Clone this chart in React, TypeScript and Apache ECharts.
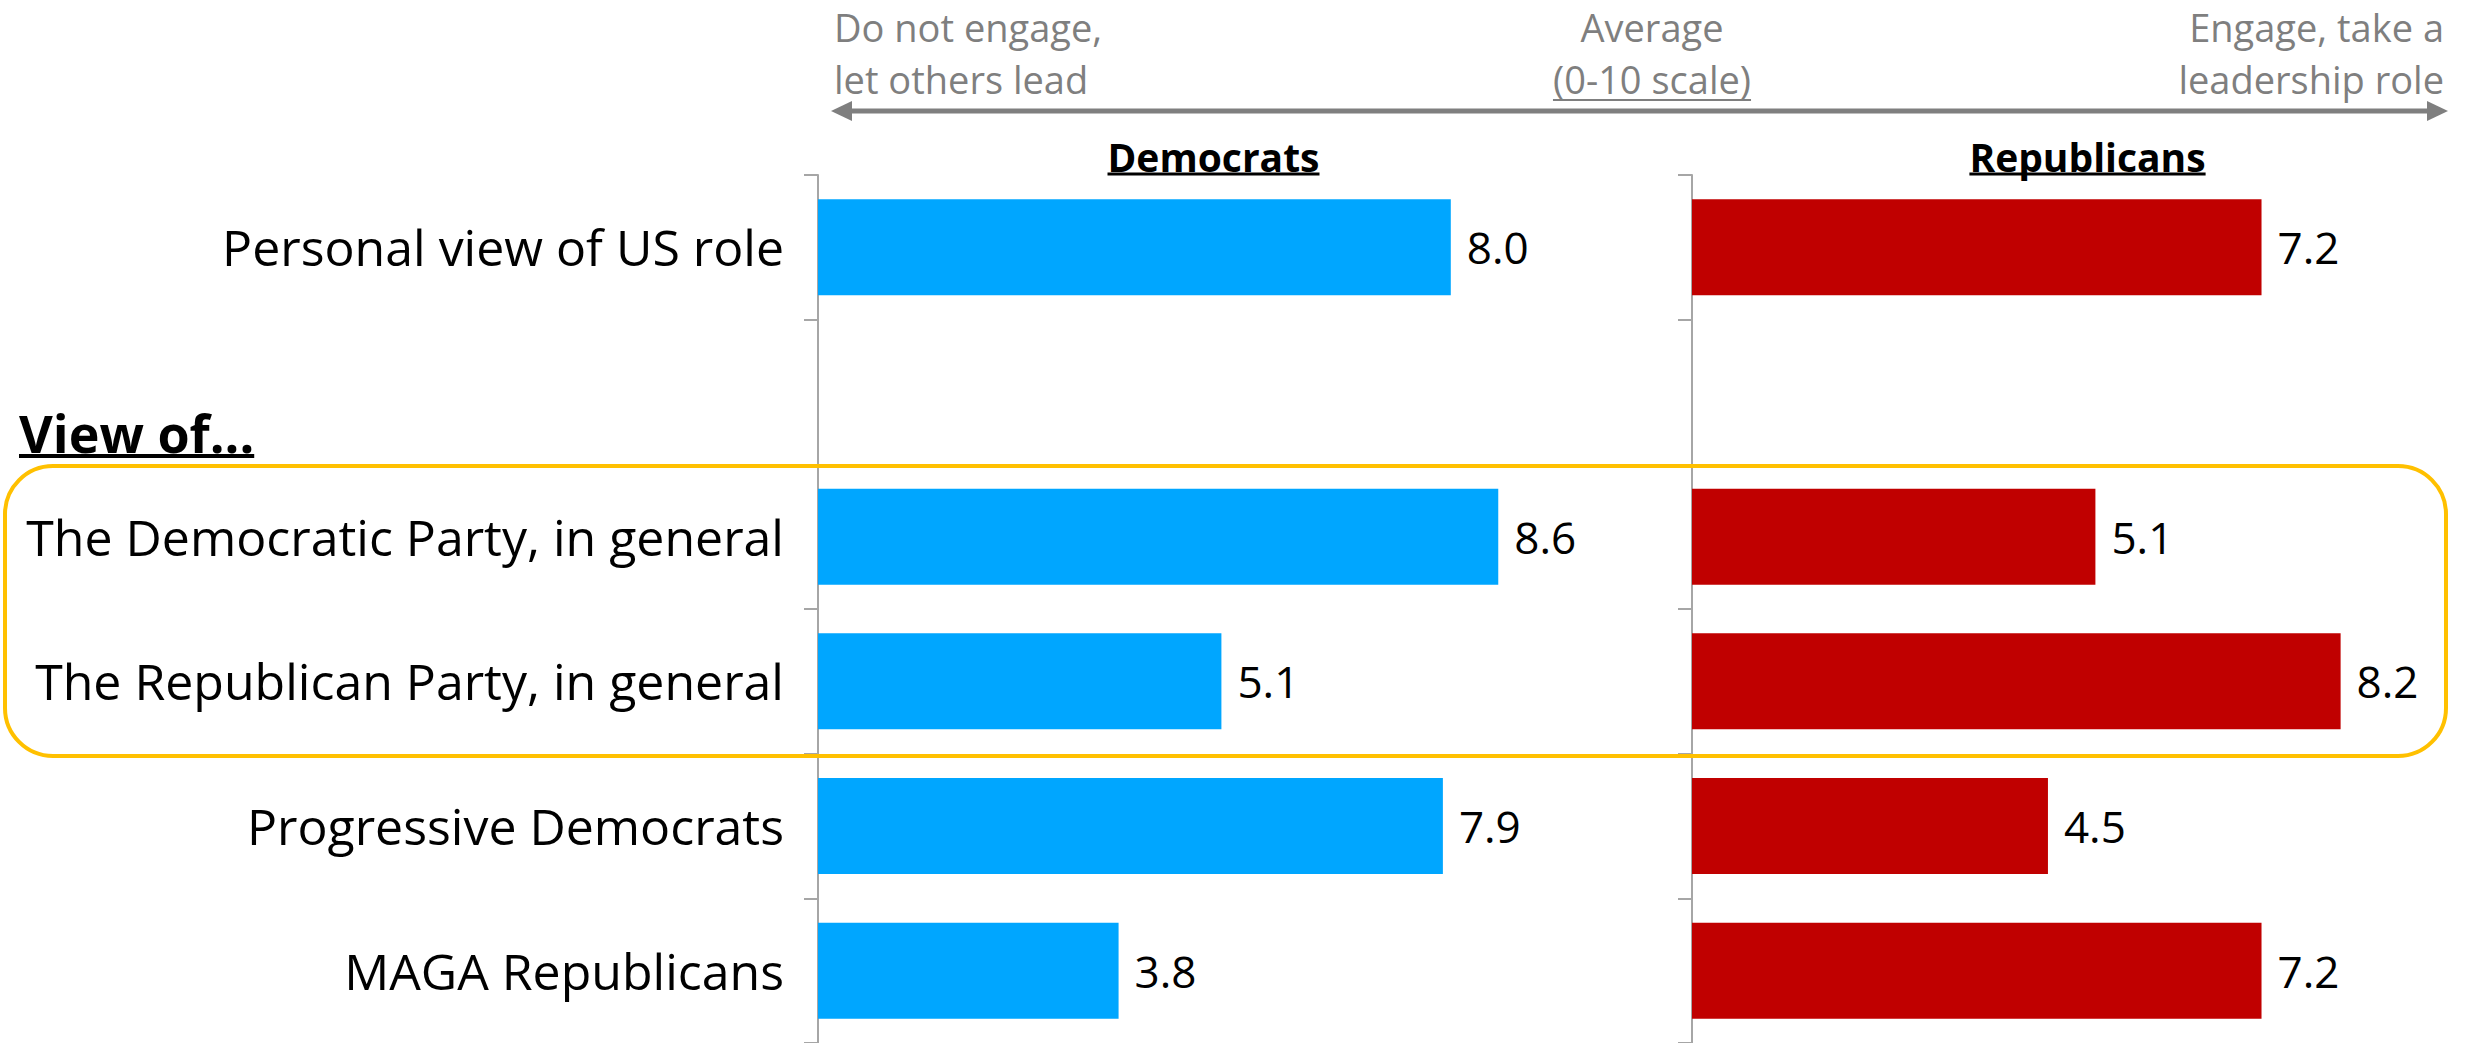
import React, { useEffect, useRef } from "react";
import * as echarts from "echarts";

const categories = [
  "Personal view of US role",
  "",
  "The Democratic Party, in general",
  "The Republican Party, in general",
  "Progressive Democrats",
  "MAGA Republicans",
];
const demValues: (number | null)[] = [8.0, null, 8.6, 5.1, 7.9, 3.8];
const repValues: (number | null)[] = [7.2, null, 5.1, 8.2, 4.5, 7.2];
const panelTitles = ["Democrats", "Republicans"];
const scaleLeft = ["Do not engage,", "let others lead"];
const scaleMid = ["Average", "(0-10 scale)"];
const scaleRight = ["Engage, take a", "leadership role"];
const sectionTitle = "View of...";

const FONT = "'Open Sans', 'Noto Sans', sans-serif";
const BLUE = "#00A6FF";
const RED = "#C00000";
const GRAY = "#7F7F7F";

function textWidth(text: string, font: string): number {
  const c = document.createElement("canvas");
  const ctx = c.getContext("2d")!;
  ctx.font = font;
  return ctx.measureText(text).width;
}

export default function App() {
  const ref = useRef<HTMLDivElement>(null);
  useEffect(() => {
    if (!ref.current) return;
    const chart = echarts.init(ref.current, undefined, { renderer: "svg" });

    const unit = 79.1;
    const demLeft = 818;
    const repLeft = 1692;
    const demMax = 10;
    const repMax = 9.8;
    const gridTop = 175;
    const gridH = 870;

    const yAxisBase = (showLabels: boolean, idx: number) => ({
      type: "category" as const,
      gridIndex: idx,
      data: categories,
      inverse: true,
      axisLine: { show: true, lineStyle: { color: "#A6A6A6", width: 2 } },
      axisTick: { show: true, length: 14, lineStyle: { color: "#A6A6A6", width: 2 } },
      axisLabel: {
        show: showLabels,
        color: "#000",
        fontSize: 50,
        fontFamily: FONT,
        margin: 34,
      },
    });
    const xAxisBase = (idx: number, max: number) => ({
      type: "value" as const,
      gridIndex: idx,
      min: 0,
      max,
      show: false,
      splitLine: { show: false },
    });
    const label = {
      show: true,
      position: "right" as const,
      distance: 16,
      color: "#000",
      fontSize: 44,
      fontFamily: FONT,
      formatter: (p: any) => (p.value == null ? "" : Number(p.value).toFixed(1)),
    };

    const hdrFont = `38px ${FONT}`;
    const midW = textWidth(scaleMid[1], hdrFont);
    const ptFont = `bold 39px ${FONT}`;
    const demW = textWidth(panelTitles[0], ptFont);
    const repW = textWidth(panelTitles[1], ptFont);
    const vFont = `bold 52px ${FONT}`;
    const vW = textWidth(sectionTitle, vFont);

    const demC = demLeft + (10 * unit) / 2;
    const repC = repLeft + (10 * unit) / 2;

    const txt = (text: string, x: number, y: number, align: string, opts: any = {}) => ({
      type: "text",
      x,
      y,
      style: {
        text,
        fill: opts.fill ?? GRAY,
        font: opts.font ?? hdrFont,
        lineHeight: opts.lineHeight,
        align,
        verticalAlign: "middle",
      },
    });
    const uline = (x1: number, x2: number, y: number, color: string, w: number) => ({
      type: "line",
      shape: { x1, y1: y, x2, y2: y },
      style: { stroke: color, lineWidth: w },
    });

    const hdrY = 53;
    const hdrLH = 52;

    const graphic: any[] = [
      txt(scaleLeft.join("\n"), 834, hdrY, "left", { lineHeight: hdrLH }),
      txt(scaleMid.join("\n"), 1652, hdrY, "center", { lineHeight: hdrLH }),
      uline(1652 - midW / 2, 1652 + midW / 2, 100, GRAY, 2),
      txt(scaleRight.join("\n"), 2444, hdrY, "right", { lineHeight: hdrLH }),
      {
        type: "line",
        shape: { x1: 845, y1: 111, x2: 2434, y2: 111 },
        style: { stroke: GRAY, lineWidth: 5 },
      },
      {
        type: "polygon",
        shape: { points: [[831, 111], [852, 101], [852, 121]] },
        style: { fill: GRAY },
      },
      {
        type: "polygon",
        shape: { points: [[2448, 111], [2427, 101], [2427, 121]] },
        style: { fill: GRAY },
      },
      txt(panelTitles[0], demC, 156, "center", { fill: "#000", font: ptFont }),
      uline(demC - demW / 2, demC + demW / 2, 174, "#000", 3),
      txt(panelTitles[1], repC, 156, "center", { fill: "#000", font: ptFont }),
      uline(repC - repW / 2, repC + repW / 2, 174, "#000", 3),
      txt(sectionTitle, 19, 432, "left", { fill: "#000", font: vFont }),
      uline(19, 19 + vW, 456, "#000", 4),
      {
        type: "rect",
        shape: { x: 5, y: 466, width: 2441, height: 290, r: 48 },
        style: { fill: "none", stroke: "#FFC000", lineWidth: 4 },
        z: 100,
      },
    ];

    chart.setOption({
      animation: false,
      backgroundColor: "#fff",
      grid: [
        { left: demLeft, top: gridTop, width: demMax * unit, height: gridH },
        { left: repLeft, top: gridTop, width: repMax * unit, height: gridH },
      ],
      xAxis: [xAxisBase(0, demMax), xAxisBase(1, repMax)],
      yAxis: [yAxisBase(true, 0), yAxisBase(false, 1)],
      series: [
        {
          type: "bar",
          xAxisIndex: 0,
          yAxisIndex: 0,
          data: demValues,
          barWidth: 96,
          itemStyle: { color: BLUE },
          label,
        },
        {
          type: "bar",
          xAxisIndex: 1,
          yAxisIndex: 1,
          data: repValues,
          barWidth: 96,
          itemStyle: { color: RED },
          label,
        },
      ],
      graphic,
    });
    return () => chart.dispose();
  }, []);
  return (
    <div
      ref={ref}
      style={{ position: "absolute", left: 0, top: 0, width: 2468, height: 1043 }}
    />
  );
}
